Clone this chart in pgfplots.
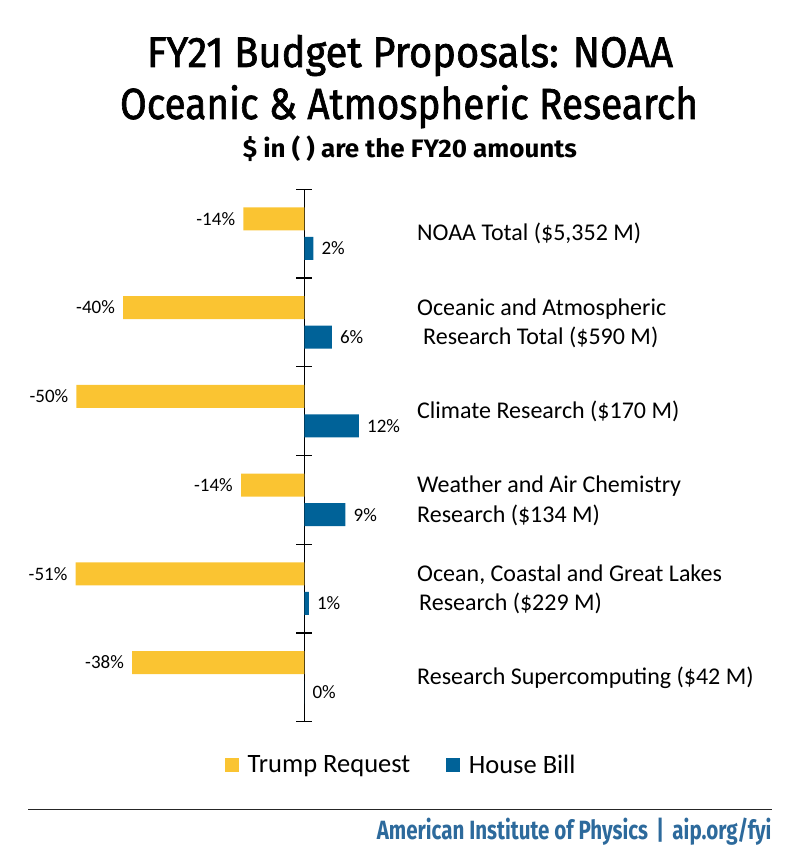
\documentclass[border=0pt]{standalone}
\usepackage{pgfplots}
\pgfplotsset{compat=1.18}
\usepackage{pgfplotstable}
\usepackage{fontspec}
\usepackage{graphicx}
\setmainfont{Carlito}
\newfontfamily\titlefont{Fira Sans}
\newfontfamily\titlefontmed{Fira Sans}[FakeBold=1.6]
\definecolor{trumpy}{HTML}{FAC432}
\definecolor{houseb}{HTML}{006298}
\definecolor{aipblue}{HTML}{2D6A9C}

\pgfplotstableread{
y val lab
0 -13.5 -14\%
1 -40.1 -40\%
2 -50.4 -50\%
3 -14.0 -14\%
4 -50.6 -51\%
5 -38.1 -38\%
}\trump
\pgfplotstableread{
y val lab
0 2.0 2\%
1 6.1 6\%
2 12.1 12\%
3 9.1 9\%
4 1.0 1\%
5 0.0 0\%
}\house

\begin{document}
\begin{tikzpicture}
\useasboundingbox (0,0) rectangle (800pt,856pt);
\begin{axis}[
  at={(33.1pt,666.7pt)}, anchor=north west,
  scale only axis, width=452pt, height=532.4pt,
  xmin=-60, xmax=40, ymin=-0.5, ymax=5.5, y dir=reverse,
  xbar, bar width=23pt,
  axis x line=none, axis y line=middle,
  axis line style={-, line width=1.2pt, black},
  ytick={-0.5,0.5,1.5,2.5,3.5,4.5,5.5}, yticklabels={},
  tick align=center, ytick align=center, major tick length=16pt,
  tick style={line width=1.2pt, black},
  clip=false,
  nodes near coords, point meta=explicit symbolic,
  every node near coord/.append style={font=\fontsize{19}{20}\selectfont, text=black, inner sep=0pt},
  legend style={draw=none, fill=none, at={(0.4246,-0.0813)}, anchor=west,
    legend columns=2, font=\fontsize{26.5}{30}\selectfont,
    /tikz/every even column/.append style={column sep=36pt}, inner sep=0pt,
    nodes={inner sep=0pt}},
  legend image code/.code={\fill[#1] (0pt,-7pt) rectangle (14pt,7pt); \path (22.5pt,0pt);},
]
\addplot[fill=trumpy, draw=none, bar shift=14.8pt,
  every node near coord/.append style={anchor=east, xshift=-8pt}]
  table[x=val, y=y, meta=lab]{\trump};
\addplot[fill=houseb, draw=none, bar shift=-14.8pt,
  every node near coord/.append style={anchor=west, xshift=8pt}]
  table[x=val, y=y, meta=lab]{\house};
\legend{Trump Request, House Bill}
\begin{scope}[every node/.style={anchor=base west, inner sep=0pt, font=\fontsize{24}{29}\selectfont}]
\node[yshift=-7pt] at (axis cs:24.93,0) {NOAA Total (\$5,352 M)};
\node[yshift=7pt] at (axis cs:24.93,1) {Oceanic and Atmospheric};
\node[yshift=-22.3pt, xshift=6pt] at (axis cs:24.93,1) {Research Total (\$590 M)};
\node[yshift=-7pt] at (axis cs:24.93,2) {Climate Research (\$170 M)};
\node[yshift=7pt] at (axis cs:24.93,3) {Weather and Air Chemistry};
\node[yshift=-22.3pt] at (axis cs:24.93,3) {Research (\$134 M)};
\node[yshift=7pt] at (axis cs:24.93,4) {Ocean, Coastal and Great Lakes};
\node[yshift=-22.3pt, xshift=2pt] at (axis cs:24.93,4) {Research (\$229 M)};
\node[yshift=-7pt] at (axis cs:24.93,5) {Research Supercomputing (\$42 M)};
\end{scope}
\end{axis}
\node[anchor=base, inner sep=0pt] at (410pt,789pt) {\resizebox{526pt}{29.5pt}{\titlefontmed\smash{FY21 Budget Proposals: NOAA}\vphantom{F}}};
\node[anchor=base, inner sep=0pt] at (409pt,737pt) {\resizebox{578pt}{30pt}{\titlefontmed\smash{Oceanic \& Atmospheric Research}\vphantom{F}}};
\node[anchor=base, inner sep=0pt] at (410pt,698pt) {\resizebox{334pt}{17.5pt}{\titlefont\bfseries\smash{\$ in ( ) are the FY20 amounts}\vphantom{F}}};
\draw[line width=1.3pt, black!85] (28pt,46.7pt) -- (771.7pt,46.7pt);
\node[anchor=base east, inner sep=0pt, text=aipblue] at (771.7pt,16pt) {\resizebox{394.7pt}{18.3pt}{\titlefont\bfseries\smash{American Institute of Physics \,|\, aip.org/fyi}\vphantom{A}}};
\end{tikzpicture}
\end{document}
